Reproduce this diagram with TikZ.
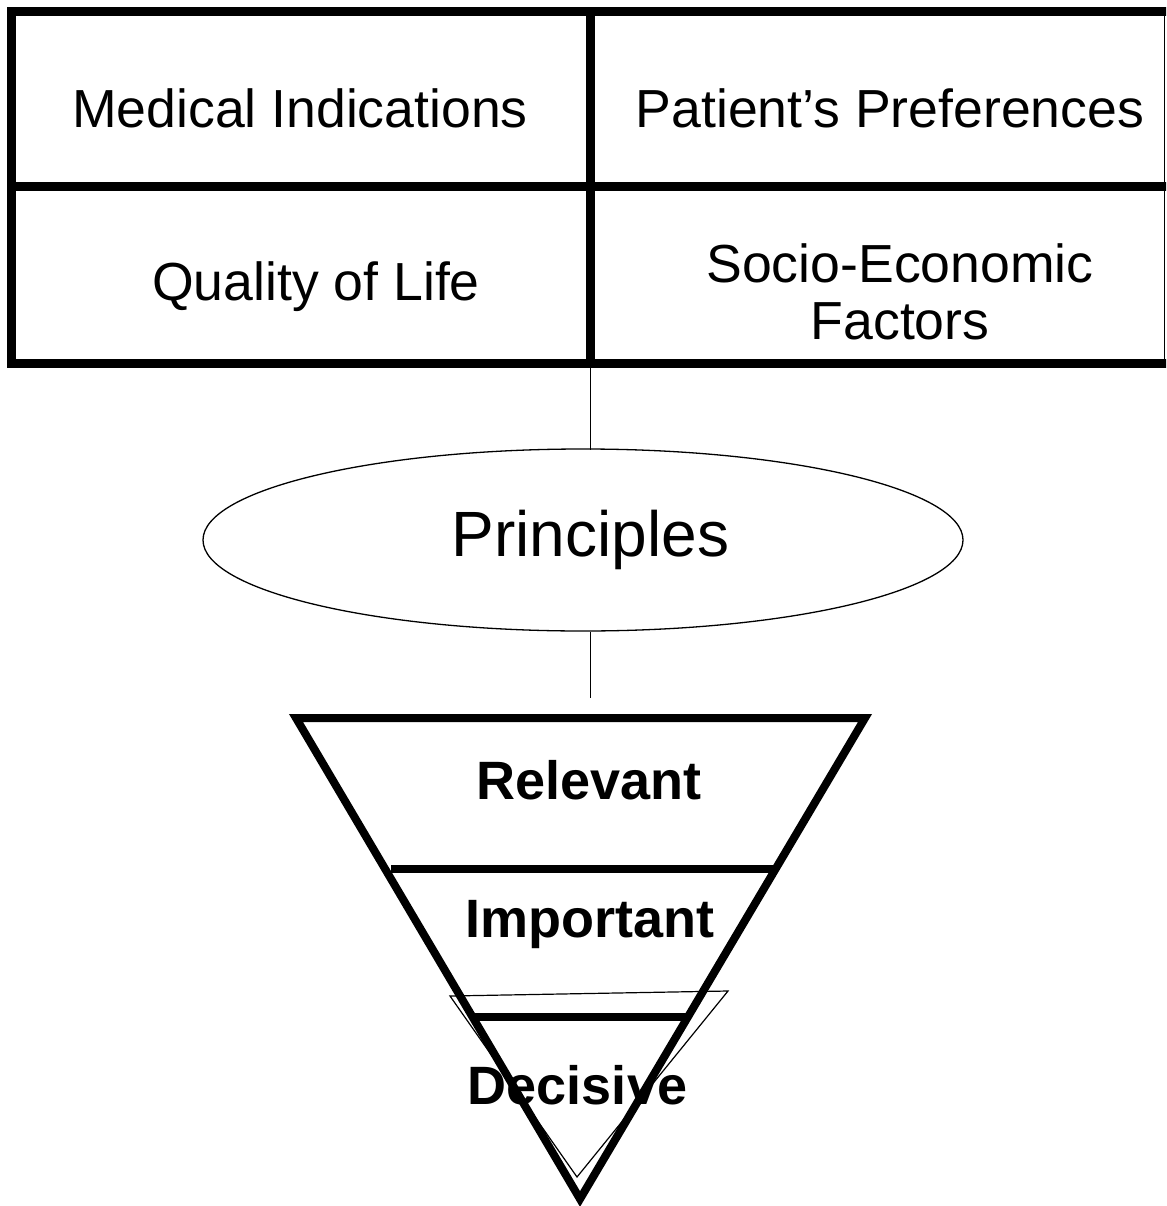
\documentclass[tikz,border=0pt]{standalone}
\usepackage{fontspec}
\setmainfont{Liberation Sans}
\usetikzlibrary{shapes.geometric}
\begin{document}
\begin{tikzpicture}[x=1pt,y=-1pt,
  grid/.style={line width=9pt,line cap=rect},
  thinline/.style={line width=1.3pt},
  cell/.style={align=center,font=\fontsize{53.6}{57}\selectfont,inner sep=0pt},
  level/.style={font=\fontsize{54}{58}\selectfont\bfseries,inner sep=0pt},
  tri/.style={line width=8pt,line join=miter}]
\useasboundingbox (0,0) rectangle (1166,1206);
\clip (0,0) rectangle (1166,1206);
% four-cell grid
\draw[grid] (1175,11.5) -- (11.5,11.5) -- (11.5,363.5) -- (1175,363.5);
\draw[grid] (11.5,187) -- (1175,187);
\draw[grid] (590.5,11.5) -- (590.5,363.5);
\draw[line width=1.2pt] (1164.5,11.5) -- (1164.5,363.5);
\node[cell] (med) at (300,108) {Medical Indications};
\node[cell] (pat) at (890,108) {Patient's Preferences};
\node[cell] (qol) at (316,287) {Quality of Life};
\node[cell] (soc) at (900,292) {Socio-Economic\\Factors};
\coordinate (gridbot) at (590.5,368);
% principles
\node[draw,thinline,ellipse,minimum width=760pt,minimum height=182pt,inner sep=0pt] (pri) at (583,540) {};
\node[font=\fontsize{64}{70}\selectfont,inner sep=0pt] (pritext) at (590.5,540) {Principles};
\coordinate (pritop) at (590.5,449.5);
\coordinate (pribot) at (590.5,631.5);
\coordinate (tritop) at (590.5,698);
\draw[thinline] (gridbot) -- (pritop);
\draw[thinline] (pribot) -- (tritop);
% funnel of levels
\coordinate (tl) at (296,718);
\coordinate (tr) at (865,718);
\coordinate (apex) at (580,1199);
\draw[line width=1.2pt] (450,996) -- (728,991) -- (577,1177) -- cycle;
\draw[tri] (tl) -- (tr) -- (apex) -- cycle;
\draw[tri] (391,869) -- (775,869);
\draw[tri] (474,1017) -- (689,1017);
\node[level] (rel) at (589,780) {Relevant};
\node[level] (imp) at (589.5,925) {Important};
\node[level] (dec) at (577.5,1085) {Decisive};
\end{tikzpicture}
\end{document}
